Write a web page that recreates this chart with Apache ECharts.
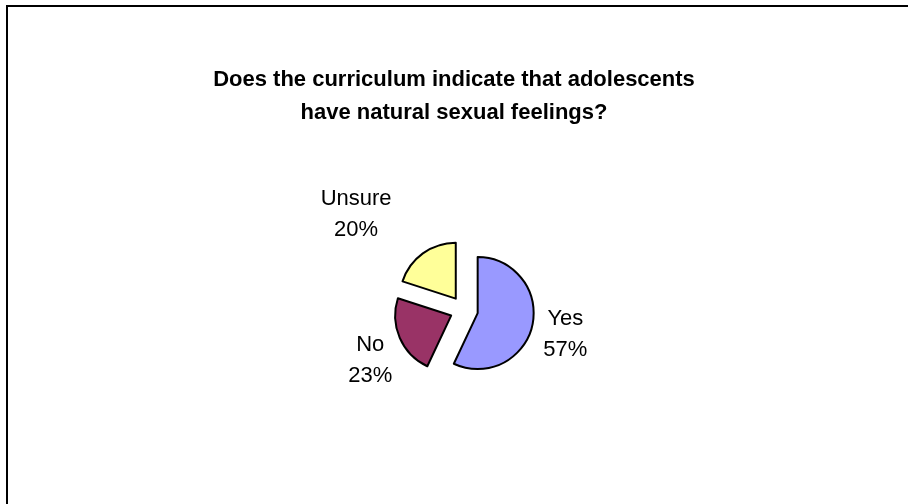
<!DOCTYPE html>
<html>
<head>
<meta charset="utf-8">
<script src="https://cdn.jsdelivr.net/npm/echarts@6/dist/echarts.min.js"></script>
<style>
html,body{margin:0;padding:0;background:#fff;}
#chart{width:908px;height:504px;}
</style>
</head>
<body>
<div id="chart"></div>
<script>
const titleText = 'Does the curriculum indicate that adolescents\nhave natural sexual feelings?';
const categories = ['Yes', 'No', 'Unsure'];
const values = [57, 23, 20];
const colors = ['#9999FF', '#993366', '#FFFF99'];
// label placement tweaks (style only)
const labelLineLengths = [-2, -6, 54];
const labelPadTop = [20, 50, 10];

const chart = echarts.init(document.getElementById('chart'), null, {renderer: 'canvas'});
const FONT = '"Liberation Sans", Arial, sans-serif';

chart.setOption({
  backgroundColor: '#ffffff',
  animation: false,
  title: {
    text: titleText,
    left: 'center',
    top: 58,
    textStyle: {fontFamily: FONT, fontSize: 22, fontWeight: 'bold', color: '#000', lineHeight: 33}
  },
  graphic: [{
    type: 'polyline',
    shape: {points: [[7, 504], [7, 6], [908, 6]]},
    style: {stroke: '#000', lineWidth: 2, fill: null}
  }],
  series: [{
    type: 'pie',
    center: [464, 310],
    radius: [0, 56],
    startAngle: 90,
    clockwise: true,
    selectedMode: 'multiple',
    selectedOffset: 14,
    emphasis: {disabled: true},
    itemStyle: {borderColor: '#000', borderWidth: 2},
    label: {
      show: true,
      position: 'outside',
      formatter: '{a|{b}}\n{a|{d}%}',
      fontFamily: FONT,
      fontSize: 22,
      color: '#000',
      rich: {a: {fontFamily: FONT, fontSize: 22, color: '#000', width: 60, align: 'center', lineHeight: 31}}
    },
    labelLine: {show: false, length: 0, length2: 0},
    data: categories.map(function (c, i) {
      return {
        name: c, value: values[i], selected: true,
        itemStyle: {color: colors[i]},
        label: {padding: [labelPadTop[i], 0, 0, 0]},
        labelLine: {length: labelLineLengths[i]},
        select: {itemStyle: {color: colors[i], borderColor: '#000', borderWidth: 2}}
      };
    })
  }]
});
</script>
</body>
</html>
